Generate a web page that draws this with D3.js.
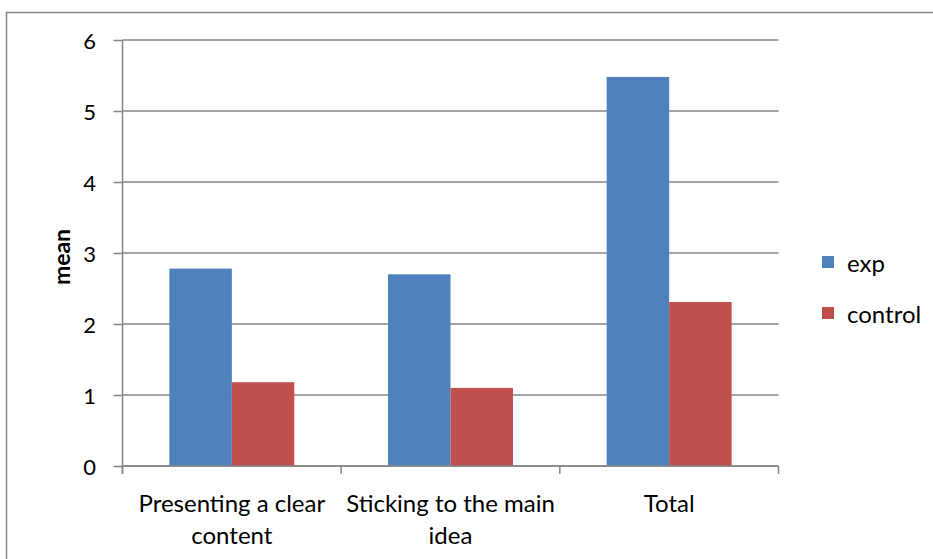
<!DOCTYPE html>
<html>
<head>
<meta charset="utf-8">
<script src="https://cdn.jsdelivr.net/npm/d3@7"></script>
<style>
  html, body { margin: 0; padding: 0; background: #fff; }
  svg { display: block; }
  text { font-family: Lato, "Open Sans", sans-serif; fill: #000; }
</style>
</head>
<body>
<svg id="chart" width="933" height="559"></svg>
<script>
// Category labels (each split into display lines)
const categories = ["Presenting a clear content", "Sticking to the main idea", "Total"];
const categoryLines = [["Presenting a clear", "content"], ["Sticking to the main", "idea"], ["Total"]];
const seriesNames = ["exp", "control"];
const expValues = [2.78, 2.70, 5.48];
const controlValues = [1.18, 1.10, 2.31];
const yTicks = [0, 1, 2, 3, 4, 5, 6];
const colors = ["#4F81BD", "#C0504D"];

const svg = d3.select("#chart");
const gridColor = "#868686";

// Outer chart frame
svg.append("path")
  .attr("d", "M6.5,600 V12.5 H940")
  .attr("fill", "none")
  .attr("stroke", gridColor)
  .attr("stroke-width", 1.5);

const plot = { left: 122.5, right: 778.5, top: 40, bottom: 466 };

const x = d3.scaleBand()
  .domain(categories)
  .range([plot.left, plot.right])
  .paddingInner(0)
  .paddingOuter(0);

// gap width 150% of a bar: two bars + 1.5 bar gap per category
const barW = x.bandwidth() / 3.5;
const xSub = d3.scaleBand()
  .domain(seriesNames)
  .range([barW * 0.75, barW * 2.75]);

const y = d3.scaleLinear().domain([0, 6]).range([plot.bottom, plot.top]);

// Horizontal gridlines
svg.append("g")
  .selectAll("line")
  .data(yTicks)
  .join("line")
  .attr("x1", plot.left)
  .attr("x2", plot.right)
  .attr("y1", d => y(d))
  .attr("y2", d => y(d))
  .attr("stroke", gridColor)
  .attr("stroke-width", 1.5);

// Bars
const rows = categories.map((c, i) => ({ c, vals: [expValues[i], controlValues[i]] }));
const groups = svg.append("g")
  .selectAll("g")
  .data(rows)
  .join("g")
  .attr("transform", d => `translate(${x(d.c)},0)`);

groups.selectAll("rect")
  .data(d => d.vals.map((v, k) => ({ v, k })))
  .join("rect")
  .attr("x", d => xSub(seriesNames[d.k]))
  .attr("width", xSub.bandwidth())
  .attr("y", d => y(d.v))
  .attr("height", d => y(0) - y(d.v))
  .attr("fill", d => colors[d.k]);

// Y axis
const yAxis = svg.append("g")
  .attr("transform", `translate(${plot.left},0)`)
  .call(d3.axisLeft(y).tickValues(yTicks).tickSize(9).tickFormat(d3.format("d")));
yAxis.select(".domain").attr("stroke", gridColor).attr("stroke-width", 1.5)
  .attr("d", `M0,${plot.top}V${plot.bottom + 8}`);
yAxis.selectAll(".tick line").attr("stroke", gridColor).attr("stroke-width", 1.5);
yAxis.selectAll(".tick text")
  .attr("font-size", 22)
  .attr("font-family", "Lato, 'Open Sans', sans-serif")
  .attr("fill", "#000")
  .attr("text-anchor", "middle")
  .attr("x", -33)
  .attr("dy", "0.4em");

// X axis: category boundary ticks
const boundaries = categories.map(c => x(c)).concat([plot.right]);
svg.append("line")
  .attr("x1", plot.left).attr("x2", plot.right)
  .attr("y1", plot.bottom).attr("y2", plot.bottom)
  .attr("stroke", gridColor).attr("stroke-width", 1.5);
svg.append("g")
  .selectAll("line")
  .data(boundaries)
  .join("line")
  .attr("x1", d => d).attr("x2", d => d)
  .attr("y1", plot.bottom).attr("y2", plot.bottom + 8)
  .attr("stroke", gridColor).attr("stroke-width", 1.5);

// Category labels
svg.append("g")
  .selectAll("text")
  .data(categories)
  .join("text")
  .attr("text-anchor", "middle")
  .attr("font-size", 24)
  .attr("transform", d => `translate(${x(d) + x.bandwidth() / 2},512)`)
  .each(function (d, i) {
    d3.select(this).selectAll("tspan")
      .data(categoryLines[i])
      .join("tspan")
      .attr("x", 0)
      .attr("dy", (t, j) => j === 0 ? 0 : 32)
      .text(t => t);
  });

// Y axis title
svg.append("text")
  .attr("transform", "translate(70,257) rotate(-90)")
  .attr("text-anchor", "middle")
  .attr("font-size", 23)
  .attr("font-weight", "bold")
  .text("mean");

// Legend
const legend = svg.append("g")
  .selectAll("g")
  .data(seriesNames)
  .join("g")
  .attr("transform", (d, i) => `translate(822,${256 + i * 51})`);
legend.append("rect")
  .attr("width", 12).attr("height", 12)
  .attr("fill", (d, i) => colors[i]);
legend.append("text")
  .attr("x", 25).attr("y", 16)
  .attr("font-size", 24)
  .text(d => d);
</script>
</body>
</html>
